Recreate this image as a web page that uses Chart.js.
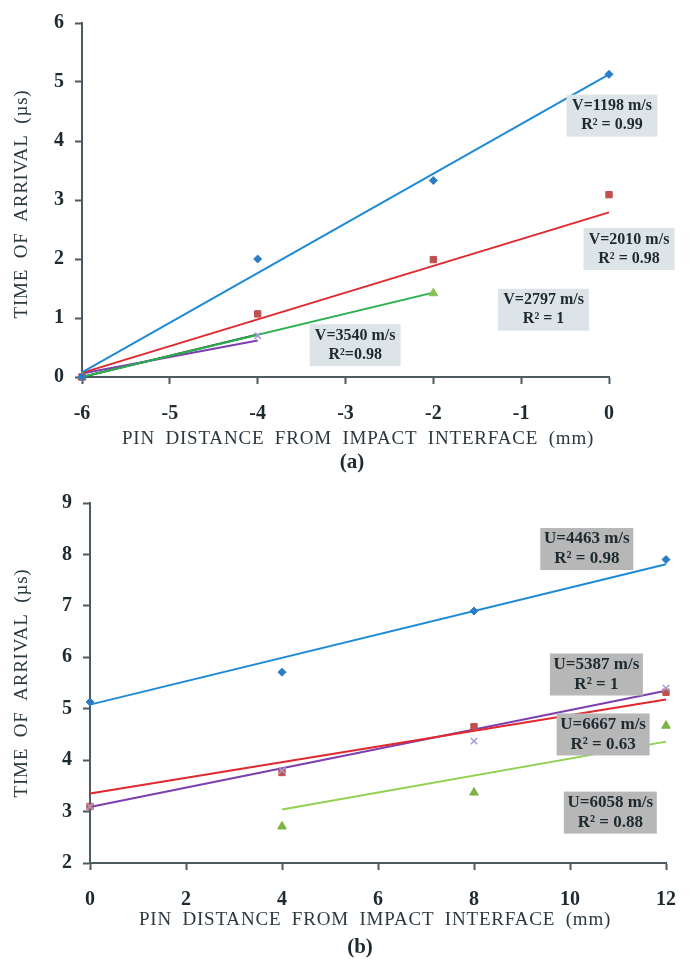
<!DOCTYPE html>
<html>
<head>
<meta charset="utf-8">
<script src="https://cdn.jsdelivr.net/npm/chart.js@4.4.1/dist/chart.umd.min.js"></script>
<style>
  body { margin: 0; background: #fff; }
  .panel { position: absolute; left: 0; }
</style>
</head>
<body>
<div class="panel" style="top:0"><canvas id="chartA" width="689" height="480"></canvas></div>
<div class="panel" style="top:480px"><canvas id="chartB" width="689" height="487"></canvas></div>
<script>
// ===== Panel (a): pin positions (mm) and arrival times (us) =====
const pinsA = [-6, -4, -2, 0];
const timesA1198 = [0, 2.0, 3.33, 5.13];
const timesA2010 = [0, 1.07, 1.99, 3.09];
const pinsA2797 = [-6, -2];
const timesA2797 = [0, 1.42];
const pinsA3540 = [-6, -4];
const timesA3540 = [0, 0.7];

// trend lines (a): end x and end y
const fitXA1198 = [-6, 0];    const fitYA1198 = [0.08, 5.13];
const fitXA2010 = [-6, 0];    const fitYA2010 = [0.07, 2.79];
const fitXA2797 = [-6, -2];   const fitYA2797 = [0, 1.43];
const fitXA3540 = [-6, -4];   const fitYA3540 = [0.06, 0.62];
const linkXA = [-6, -4];      const linkYA = [0, 0.72];

const xTicksA = [-6, -5, -4, -3, -2, -1, 0];
const yTicksA = [0, 1, 2, 3, 4, 5, 6];

// ===== Panel (b) =====
const pinsB = [0, 4, 8, 12];
const timesB4463 = [5.13, 5.71, 6.9, 7.9];
const timesB6667 = [3.1, 3.76, 4.65, 5.32];
const timesB5387 = [3.1, 3.8, 4.37, 5.4];
const pinsB6058 = [4, 8, 12];
const timesB6058 = [2.71, 3.37, 4.67];

const fitXB4463 = [0, 12];  const fitYB4463 = [5.08, 7.81];
const fitXB6667 = [0, 12];  const fitYB6667 = [3.35, 5.18];
const fitXB5387 = [0, 12];  const fitYB5387 = [3.09, 5.35];
const fitXB6058 = [4, 12];  const fitYB6058 = [3.04, 4.36];

const xTicksB = [0, 2, 4, 6, 8, 10, 12];
const yTicksB = [2, 3, 4, 5, 6, 7, 8, 9];

// velocity labels
const labelTextA = [['V=1198 m/s', 'R\u00b2 = 0.99'], ['V=2010 m/s', 'R\u00b2 = 0.98'],
                    ['V=2797 m/s', 'R\u00b2 = 1'], ['V=3540 m/s', 'R\u00b2=0.98']];
const labelTextB = [['U=4463 m/s', 'R\u00b2 = 0.98'], ['U=5387 m/s', 'R\u00b2 = 1'],
                    ['U=6667 m/s', 'R\u00b2 = 0.63'], ['U=6058 m/s', 'R\u00b2 = 0.88']];
// where each label box is centred, in axis units
const labelAtA = [[0.034, 4.43], [0.228, 2.17], [-0.745, 1.14], [-2.89, 0.54]];
const labelAtB = [[10.35, 8.105], [10.55, 5.665], [10.69, 4.50], [10.84, 2.98]];

const SERIF = '"Liberation Serif", "Times New Roman", serif';
const AXIS = '#4d5b61';
const INK = '#1d2a30';

const pts = (xs, ys) => xs.map((x, i) => ({x, y: ys[i]}));

function markers(xs, ys, style, color, r) {
    return {
        type: 'scatter', data: pts(xs, ys), showLine: false, clip: false,
        pointStyle: style, pointRadius: r, pointBorderWidth: style === 'crossRot' ? 1.5 : 1,
        backgroundColor: color, borderColor: color, order: 0
    };
}
function trend(xs, ys, color) {
    return {
        type: 'line', data: pts(xs, ys), borderColor: color, borderWidth: 2,
        pointRadius: 0, clip: false, order: 1, tension: 0
    };
}

// label boxes drawn over the lines
const boxPlugin = {
    id: 'boxes',
    afterDatasetsDraw(chart, args, o) {
        const {ctx, scales: {x, y}} = chart;
        ctx.save();
        o.at.forEach((p, i) => {
            const cx = x.getPixelForValue(p[0]);
            const cy = y.getPixelForValue(p[1]);
            ctx.fillStyle = o.fill;
            ctx.fillRect(cx - o.w / 2, cy - o.h / 2, o.w, o.h);
            ctx.fillStyle = INK;
            ctx.font = 'bold ' + o.size + 'px ' + SERIF;
            ctx.textAlign = 'center';
            ctx.textBaseline = 'middle';
            ctx.fillText(o.text[i][0], cx, cy - o.gap / 2);
            ctx.fillText(o.text[i][1], cx, cy + o.gap / 2);
        });
        ctx.restore();
    }
};

// axis titles and panel letter
const titlePlugin = {
    id: 'titles',
    afterDraw(chart, args, o) {
        const ctx = chart.ctx;
        ctx.save();
        ctx.fillStyle = '#2b383e';
        ctx.font = '19px ' + SERIF;
        ctx.letterSpacing = '0.8px';
        ctx.wordSpacing = '5px';
        ctx.textAlign = 'center';
        ctx.textBaseline = 'middle';
        ctx.fillText('PIN DISTANCE FROM IMPACT INTERFACE (mm)', o.xTitle[0], o.xTitle[1]);
        ctx.save();
        ctx.translate(o.yTitle[0], o.yTitle[1]);
        ctx.rotate(-Math.PI / 2);
        ctx.fillText('TIME OF ARRIVAL (\u00b5s)', 0, 0);
        ctx.restore();
        ctx.letterSpacing = '0px';
        ctx.wordSpacing = '0px';
        ctx.fillStyle = INK;
        ctx.font = 'bold 21px ' + SERIF;
        ctx.fillText(o.letter, o.letterAt[0], o.letterAt[1]);
        ctx.restore();
    }
};

function axis(min, max, ticks, fit) {
    return {
        type: 'linear', min, max,
        afterBuildTicks: s => { s.ticks = ticks.map(v => ({value: v})); },
        afterFit: fit,
        grid: {drawOnChartArea: false, drawTicks: true, tickLength: 7, tickWidth: 2, color: AXIS},
        border: {display: true, color: AXIS, width: 2},
        ticks: {color: INK, font: {family: SERIF, size: 20, weight: 'bold'}}
    };
}

function makeChart(id, datasets, xs, ys, pad, boxes, titles) {
    // taller line box pushes the x labels down without widening the side padding
    xs.ticks.padding = 13;
    xs.ticks.font.lineHeight = 1.7;
    ys.ticks.padding = 11;
    return new Chart(document.getElementById(id), {
        data: {datasets},
        options: {
            responsive: false, animation: false,
            layout: {padding: pad},
            plugins: {legend: {display: false}, tooltip: {enabled: false}, boxes, titles},
            scales: {x: xs, y: ys}
        },
        plugins: [boxPlugin, titlePlugin]
    });
}

// ===== Chart (a) =====
makeChart('chartA', [
    markers(pinsA, timesA1198, 'rectRot', '#2c7cc6', 4),
    markers(pinsA, timesA2010, 'rect', '#c0504d', 4.5),
    markers(pinsA2797, timesA2797, 'triangle', '#8cc152', 5),
    markers(pinsA3540, timesA3540, 'crossRot', '#a49bd8', 4.5),
    trend(fitXA1198, fitYA1198, '#1e8ad6'),
    trend(fitXA2010, fitYA2010, '#e0282e'),
    trend(fitXA2797, fitYA2797, '#2ab04f'),
    trend(fitXA3540, fitYA3540, '#7b3fb0'),
    trend(linkXA, linkYA, '#1d3f2a')
],
    axis(-6, 0, xTicksA, s => { s.height = 103; }),
    axis(0, 6, yTicksA, s => { s.width = 82; }),
    {top: 17, right: 80, left: 0, bottom: 0},
    {at: labelAtA, text: labelTextA, fill: '#dde4e7', w: 91, h: 42, size: 16, gap: 19},
    {xTitle: [358, 439], yTitle: [22, 204], letter: '(a)', letterAt: [352, 463]}
);

// ===== Chart (b) =====
makeChart('chartB', [
    markers(pinsB, timesB4463, 'rectRot', '#2c7cc6', 4),
    markers(pinsB, timesB5387, 'crossRot', '#a49bd8', 4.5),
    markers(pinsB, timesB6667, 'rect', '#c0504d', 4.5),
    markers(pinsB6058, timesB6058, 'triangle', '#7cb342', 5),
    trend(fitXB4463, fitYB4463, '#1e8ad6'),
    trend(fitXB6667, fitYB6667, '#e0282e'),
    trend(fitXB5387, fitYB5387, '#7b3fb0'),
    trend(fitXB6058, fitYB6058, '#92d050')
],
    axis(0, 12, xTicksB, s => { s.height = 104; }),
    axis(2, 9, yTicksB, s => { s.width = 90; }),
    {top: 23, right: 23, left: 0, bottom: 0},
    {at: labelAtB, text: labelTextB, fill: '#b7b7b7', w: 93, h: 42, size: 17, gap: 20},
    {xTitle: [375, 440], yTitle: [22, 203], letter: '(b)', letterAt: [360, 468]}
);
</script>
</body>
</html>
